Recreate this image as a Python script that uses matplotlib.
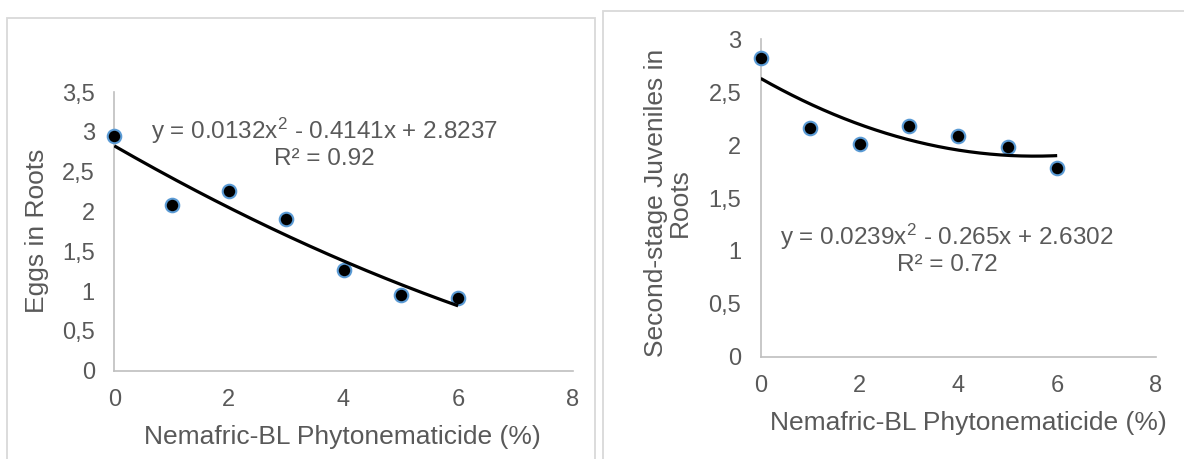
import numpy as np
import matplotlib
matplotlib.use("Agg")
import matplotlib.pyplot as plt
from matplotlib.patches import Rectangle
from matplotlib.ticker import FuncFormatter

# ---------------- data ----------------
conc = [0, 1, 2, 3, 4, 5, 6]
eggs = [2.95, 2.085, 2.26, 1.91, 1.265, 0.95, 0.915]
j2 = [2.82, 2.16, 2.01, 2.18, 2.085, 1.985, 1.785]

eggs_coef = [0.0132, -0.4141, 2.8237]
j2_coef = [0.0239, -0.265, 2.6302]

eggs_eq = "y = 0.0132x$^{2}$ - 0.4141x + 2.8237\nR² = 0.92"
j2_eq = "y = 0.0239x$^{2}$ - 0.265x + 2.6302\nR² = 0.72"

xlabel = "Nemafric-BL Phytonematicide (%)"
eggs_ylabel = "Eggs in Roots"
j2_ylabel = "Second-stage Juveniles in\nRoots"

# ---------------- style ----------------
plt.rcParams['font.family'] = ['Liberation Sans', 'DejaVu Sans']
plt.rcParams['mathtext.fontset'] = 'custom'
plt.rcParams['mathtext.rm'] = 'Liberation Sans'
plt.rcParams['mathtext.it'] = 'Liberation Sans'
TXT = "#595959"
SPINE = "#bfbfbf"
FRAME = "#d9d9d9"
W, H = 1184, 459

fig = plt.figure(figsize=(W / 100, H / 100), dpi=100)


def fx(px):
    return px / W


def fy(py):
    return 1 - py / H


# panel frames
fig.patches.append(Rectangle((fx(7), fy(470)), fx(595 - 7), (470 - 18) / H,
                             transform=fig.transFigure, fill=False,
                             edgecolor=FRAME, lw=1.3, clip_on=False))
fig.patches.append(Rectangle((fx(603), fy(470)), fx(1200 - 603), (470 - 10.7) / H,
                             transform=fig.transFigure, fill=False,
                             edgecolor=FRAME, lw=1.3, clip_on=False))

fmt = FuncFormatter(lambda v, p: ("%g" % v).replace(".", ","))


def make_axes(x0, x1, y0, y1, ymax, yvals, coef, eq, eqx, eqy):
    ax = fig.add_axes([fx(x0), fy(y0), fx(x1 - x0), (y0 - y1) / H])
    ax.set_xlim(0, 8)
    ax.set_ylim(0, ymax)
    ax.set_xticks(np.arange(0, 9, 2))
    ax.set_yticks(np.arange(0, ymax + 0.01, 0.5))
    ax.yaxis.set_major_formatter(fmt)
    ax.xaxis.set_major_formatter(fmt)
    for s in ["top", "right"]:
        ax.spines[s].set_visible(False)
    for s in ["left", "bottom"]:
        ax.spines[s].set_color(SPINE)
        ax.spines[s].set_linewidth(1.2)
    ax.tick_params(length=0, labelsize=17, colors=TXT)
    ax.tick_params(axis='y', pad=14)
    ax.tick_params(axis='x', pad=13)
    xs = np.linspace(0, 6, 200)
    ax.scatter(conc, yvals, s=95, color="black", edgecolor="#5b9bd5",
               linewidth=1.5, zorder=3, clip_on=False)
    ax.plot(xs, np.polyval(coef, xs), color="black", lw=2.3, zorder=4,
            solid_capstyle='butt')
    fig.text(fx(eqx), fy(eqy), eq, ha="center", va="center", color=TXT,
             fontsize=17.5, linespacing=1.15)
    return ax


ax1 = make_axes(114.3, 572.7, 370.7, 92, 3.5, eggs, eggs_coef, eggs_eq, 324, 143)
ax2 = make_axes(760.7, 1156, 356.7, 39.3, 3.0, j2, j2_coef, j2_eq, 947, 249)

fig.text(fx(342.5), fy(436.7), xlabel, ha="center", va="center",
         color=TXT, fontsize=19)
fig.text(fx(968.5), fy(423.3), xlabel, ha="center", va="center",
         color=TXT, fontsize=19)
fig.text(fx(37), fy(231), eggs_ylabel, ha="center", va="center",
         rotation=90, color=TXT, fontsize=19)
fig.text(fx(668), fy(203), j2_ylabel, ha="center", va="center",
         rotation=90, color=TXT, fontsize=19, linespacing=1.0,
         multialignment="center")

fig.savefig("out.png", dpi=100, facecolor="white")
